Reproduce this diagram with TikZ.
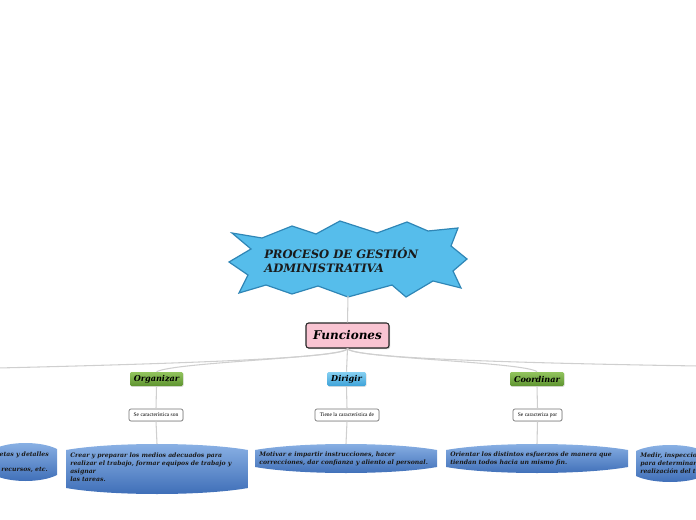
\documentclass[tikz,border=0pt]{standalone}
\usepackage{fontspec}
\setmainfont{Liberation Serif}
\newfontfamily\djv{DejaVu Serif}
\usetikzlibrary{shadows}
\definecolor{starfill}{HTML}{56BDEB}
\definecolor{starline}{HTML}{2F86B6}
\definecolor{pinkfill}{HTML}{F9C4D2}
\definecolor{linkgray}{HTML}{CFCFCF}
\definecolor{greentop}{HTML}{92C45E}
\definecolor{greenbot}{HTML}{5E9430}
\definecolor{bluetop}{HTML}{86D0F2}
\definecolor{bluebot}{HTML}{3DA2D8}
\definecolor{cyltop}{HTML}{8CB3E6}
\definecolor{cylbot}{HTML}{3C6CB6}
\definecolor{txtdark}{HTML}{1A1A1A}
\newcommand\mycyl[4]{%
  \shade[top color=cyltop, bottom color=cylbot]
    (#1,{#2+6}) .. controls ({#1+0.25*(#3-#1)},{#2-2}) and ({#3-0.25*(#3-#1)},{#2-2}) .. (#3,{#2+6})
    -- (#3,{#4-6}) .. controls ({#3-0.25*(#3-#1)},{#4+2}) and ({#1+0.25*(#3-#1)},{#4+2}) .. (#1,{#4-6}) -- cycle;}
\begin{document}
\begin{tikzpicture}[x=0.75pt,y=-0.75pt,
  link/.style={draw=linkgray, line width=0.8pt},
  funcbox/.style={draw=black!85, line width=0.8pt, fill=pinkfill, rounded corners=2pt,
    minimum width=62.25pt, minimum height=18.75pt, inner sep=0pt,
    font=\djv\bfseries\itshape\fontsize{9}{10}\selectfont,
    drop shadow={shadow xshift=0.9pt, shadow yshift=-0.9pt, opacity=0.45}},
  greenbox/.style={top color=greentop, bottom color=greenbot, rounded corners=1pt,
    minimum height=10.5pt, inner sep=0pt, font=\djv\bfseries\itshape\fontsize{6.1}{7}\selectfont,
    drop shadow={shadow xshift=0.5pt, shadow yshift=-0.6pt, opacity=0.25}},
  bluebox/.style={greenbox, top color=bluetop, bottom color=bluebot},
  smallbox/.style={draw=black!55, fill=white, rounded corners=1.5pt, line width=0.5pt,
    minimum height=9pt, inner sep=0pt, font=\fontsize{4.1}{4.5}\selectfont,
    drop shadow={shadow xshift=0.4pt, shadow yshift=-0.4pt, opacity=0.2}},
  cyltext/.style={anchor=north west, align=left, inner sep=0pt, text=txtdark,
    font=\djv\bfseries\itshape\fontsize{4.6}{6}\selectfont}]
\useasboundingbox (0,0) rectangle (696,520);
\clip (0,0) rectangle (696,520);

% star
\draw[starline, fill=starfill, line width=0.9pt, line join=miter]
  (232,233) -- (262,238) -- (292,226) -- (316,234) -- (340,221) -- (377,233) -- (407,222)
  -- (428,231) -- (458,228) -- (451,246) -- (467,259) -- (453,271) -- (461,288) -- (433,281)
  -- (406,297) -- (392,285) -- (348,297) -- (318,286) -- (292,294) -- (266,285) -- (239,293)
  -- (248,275) -- (229,262) -- (251,249) -- cycle;
\node[anchor=west, align=left, inner sep=0pt, text=txtdark,
  font=\djv\bfseries\itshape\fontsize{8.7}{10.5}\selectfont] (title) at (264,260)
  {PROCESO DE GESTIÓN\\ADMINISTRATIVA};
\coordinate (starb) at (348,296);

% Funciones
\node[funcbox] (fun) at (347.5,335.5) {Funciones};
\draw[link] (starb) -- (fun.north);

% categories
\node[greenbox, minimum width=39.75pt] (org) at (156.5,379) {Organizar};
\node[bluebox, minimum width=29pt] (dir) at (346.5,379) {Dirigir};
\node[greenbox, minimum width=40.5pt] (coo) at (537,379) {Coordinar};

\coordinate (planear) at (-2,368);
\coordinate (controlar) at (698,366);
\draw[link] (fun.south) .. controls (346,356) and (250,362) .. (planear);
\draw[link] (fun.south) .. controls (344,358) and (175,362) .. (org.north);
\draw[link] (fun.south) -- (dir.north);
\draw[link] (fun.south) .. controls (350,358) and (525,362) .. (coo.north);
\draw[link] (fun.south) .. controls (350,356) and (450,362) .. (controlar);

% small boxes
\node[smallbox, minimum width=40.5pt] (orgc) at (156,415) {Se característica son};
\node[smallbox, minimum width=48pt] (dirc) at (347,415) {Tiene la característica de};
\node[smallbox, minimum width=36.75pt] (cooc) at (537.5,415) {Se caracteriza por};

% cylinders
\mycyl{-6}{443}{57}{481}
\mycyl{66}{444}{248}{494}
\mycyl{255}{444}{437}{473}
\mycyl{446}{444}{628}{473}
\mycyl{636}{445}{704}{482}
\coordinate (ocyl) at (157,444);
\coordinate (dcyl) at (346,444);
\coordinate (ccyl) at (537,444);

\draw[link] (org.south) -- (orgc.north);
\draw[link] (orgc.south) -- (ocyl);
\draw[link] (dir.south) -- (dirc.north);
\draw[link] (dirc.south) -- (dcyl);
\draw[link] (coo.south) -- (cooc.north);
\draw[link] (cooc.south) -- (ccyl);

% texts
\node[cyltext, anchor=north east, align=right] (lt1) at (49,452) {etas y detalles};
\node[cyltext, anchor=north east, align=right] (lt2) at (48,467) {recursos, etc.};
\node[cyltext] (ot) at (70,453) {Crear y preparar los medios adecuados para\\realizar el trabajo, formar equipos de trabajo y\\asignar\\las tareas.};
\node[cyltext] (dt) at (259,452) {Motivar e impartir instrucciones, hacer\\correcciones, dar confianza y aliento al personal.};
\node[cyltext] (ct) at (450,452) {Orientar los distintos esfuerzos de manera que\\tiendan todos hacia un mismo fin.};
\node[cyltext] (rt) at (640,453) {Medir, inspeccio\\para determinar\\realización del t};
\end{tikzpicture}
\end{document}
